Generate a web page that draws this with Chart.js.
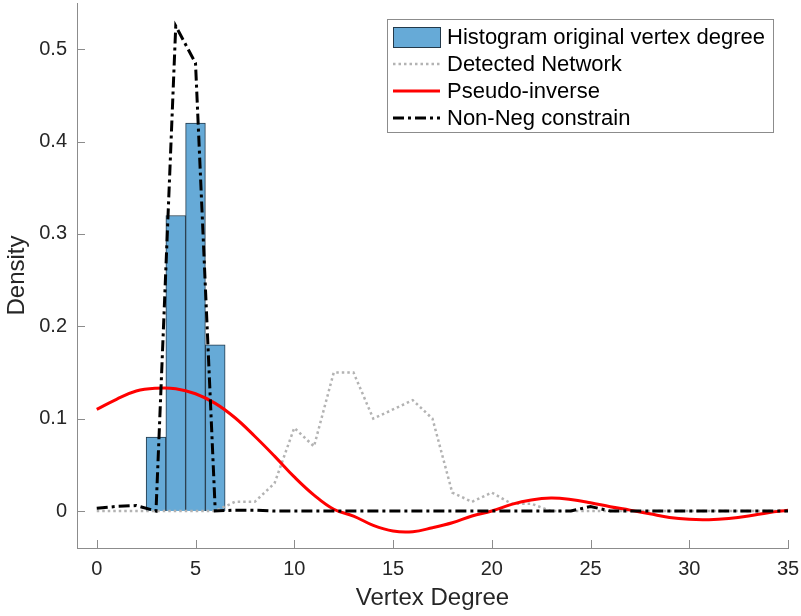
<!DOCTYPE html>
<html>
<head>
<meta charset="utf-8">
<title>Vertex degree density</title>
<script src="https://cdn.jsdelivr.net/npm/chart.js@4/dist/chart.umd.min.js"></script>
<style>
  html, body { margin: 0; padding: 0; background: #fff; }
  #wrap { width: 801px; height: 616px; }
</style>
</head>
<body>
<div id="wrap"><canvas id="canvas"></canvas></div>
<script>
// vertex degree 0..35
var degrees = [0, 1, 2, 3, 4, 5, 6, 7, 8, 9, 10, 11, 12, 13, 14, 15, 16, 17,
  18, 19, 20, 21, 22, 23, 24, 25, 26, 27, 28, 29, 30, 31, 32, 33, 34, 35]

// histogram of the original vertex degree (bin centres, density)
var histBins = [3, 4, 5, 6]
var histDensity = [0.08, 0.32, 0.42, 0.18]

var detected = [0, 0, 0, 0, 0, 0, 0, 0.01, 0.01, 0.03, 0.09, 0.07, 0.15, 0.15,
  0.10, 0.11, 0.12, 0.10, 0.02, 0.01, 0.02, 0.008, 0.008, 0, 0, 0, 0, 0, 0, 0,
  0, 0, 0, 0, 0, 0]

var pseudoInverse = [0.110, 0.121, 0.130, 0.133, 0.1325, 0.127, 0.1166, 0.101,
  0.081, 0.0595, 0.037, 0.0173, 0.002, -0.0054, -0.0155, -0.0216, -0.0223,
  -0.018, -0.0126, -0.0054, 0.000, 0.0072, 0.012, 0.014, 0.0125, 0.009, 0.0047,
  0.001, -0.003, -0.007, -0.009, -0.0093, -0.008, -0.0054, -0.0018, 0.001]

var nonNeg = [0.003, 0.005, 0.006, 0, 0.525, 0.485, 0, 0.001, 0.001, 0, 0, 0,
  0, 0, 0, 0, 0, 0, 0, 0, 0, 0, 0, 0, 0, 0.005, 0, 0, 0, 0, 0, 0, 0, 0, 0, 0]

var xTicks = [0, 5, 10, 15, 20, 25, 30, 35]
var yTicks = [0, 0.1, 0.2, 0.3, 0.4, 0.5]

var FONT = '"Liberation Sans", Helvetica, Arial, sans-serif'
var AXIS = '#8c8c8c'
var TEXT = '#262626'

function points (ys) {
  return degrees.map(function (d, i) { return { x: d, y: ys[i] } })
}

// MATLAB style ticks pointing into the axes
var innerTicks = {
  id: 'innerTicks',
  afterDraw: function (chart) {
    var ctx = chart.ctx
    var a = chart.chartArea
    var sx = chart.scales.x
    var sy = chart.scales.y
    ctx.save()
    ctx.strokeStyle = AXIS
    ctx.lineWidth = 1
    ctx.beginPath()
    sx.ticks.forEach(function (t) {
      var px = Math.round(sx.getPixelForValue(t.value)) + 0.5
      ctx.moveTo(px, a.bottom)
      ctx.lineTo(px, a.bottom - 8)
    })
    sy.ticks.forEach(function (t) {
      var py = Math.round(sy.getPixelForValue(t.value)) + 0.5
      ctx.moveTo(a.left, py)
      ctx.lineTo(a.left + 8, py)
    })
    ctx.stroke()
    ctx.restore()
  }
}

// legend box in the upper right of the plot
var boxLegend = {
  id: 'boxLegend',
  afterDraw: function (chart) {
    var ctx = chart.ctx
    var left = 387.5, top = 19.5, w = 386, h = 113
    var rowH = 27
    ctx.save()
    ctx.fillStyle = '#fff'
    ctx.fillRect(left, top, w, h)
    ctx.strokeStyle = '#8c8c8c'
    ctx.lineWidth = 1
    ctx.strokeRect(left, top, w, h)
    ctx.font = '22px ' + FONT
    ctx.textBaseline = 'middle'
    chart.data.datasets.forEach(function (ds, i) {
      var cy = top + 17.5 + i * rowH
      if (ds.type === 'bar') {
        ctx.fillStyle = ds.backgroundColor
        ctx.fillRect(393, cy - 10, 47, 20)
        ctx.strokeStyle = ds.borderColor
        ctx.strokeRect(393.5, cy - 9.5, 47, 20)
      } else {
        ctx.strokeStyle = ds.borderColor
        ctx.lineWidth = ds.borderWidth
        ctx.setLineDash(ds.borderDash || [])
        ctx.beginPath()
        ctx.moveTo(393, cy)
        ctx.lineTo(440, cy)
        ctx.stroke()
        ctx.setLineDash([])
      }
      ctx.fillStyle = '#000'
      ctx.fillText(ds.label, 447, cy + 1)
    })
    ctx.restore()
  }
}

var context = document.getElementById('canvas').getContext('2d')
new Chart(context, {
  data: {
    datasets: [{
      type: 'bar',
      label: 'Histogram original vertex degree',
      data: histBins.map(function (b, i) { return { x: b, y: histDensity[i] } }),
      backgroundColor: 'rgb(102,170,215)',
      borderColor: '#23394a',
      borderWidth: 1,
      barPercentage: 1,
      categoryPercentage: 1,
      order: 4
    }, {
      type: 'line',
      label: 'Detected Network',
      data: points(detected),
      borderColor: '#b3b3b3',
      borderWidth: 2.5,
      borderDash: [2.5, 3],
      pointRadius: 0,
      tension: 0,
      fill: false,
      order: 3
    }, {
      type: 'line',
      label: 'Pseudo-inverse',
      data: points(pseudoInverse),
      borderColor: '#ff0000',
      borderWidth: 3,
      pointRadius: 0,
      tension: 0.4,
      fill: false,
      order: 2
    }, {
      type: 'line',
      label: 'Non-Neg constrain',
      data: points(nonNeg),
      borderColor: '#000',
      borderWidth: 3,
      borderDash: [11, 4, 3, 4],
      pointRadius: 0,
      tension: 0,
      fill: false,
      order: 1
    }]
  },
  options: {
    responsive: true,
    maintainAspectRatio: false,
    animation: false,
    layout: { padding: { top: 3, right: 13, left: 0, bottom: 0 } },
    plugins: {
      legend: { display: false },
      tooltip: { enabled: false }
    },
    scales: {
      x: {
        type: 'linear',
        min: -1,
        max: 35,
        offset: false,
        grid: { display: false, drawTicks: false },
        border: { display: true, color: AXIS, width: 1 },
        afterBuildTicks: function (scale) {
          scale.ticks = xTicks.map(function (v) { return { value: v } })
        },
        afterFit: function (scale) {
          scale.height = 68
          scale.paddingLeft = 0
          scale.paddingRight = 0
        },
        ticks: {
          color: TEXT,
          padding: 9,
          maxRotation: 0,
          font: { family: FONT, size: 20 },
          callback: function (v) { return String(v) }
        },
        title: {
          display: true,
          text: 'Vertex Degree',
          color: TEXT,
          font: { family: FONT, size: 24 },
          padding: { top: 0, bottom: 3 }
        }
      },
      y: {
        type: 'linear',
        min: -0.04,
        max: 0.55,
        grid: { display: false, drawTicks: false },
        border: { display: true, color: AXIS, width: 1 },
        afterBuildTicks: function (scale) {
          scale.ticks = yTicks.map(function (v) { return { value: v } })
        },
        afterFit: function (scale) {
          scale.width = 77
          scale.paddingTop = 0
          scale.paddingBottom = 0
        },
        ticks: {
          color: TEXT,
          padding: 10,
          font: { family: FONT, size: 20 },
          callback: function (v) { return String(v) }
        },
        title: {
          display: true,
          text: 'Density',
          color: TEXT,
          font: { family: FONT, size: 24 },
          padding: { top: 3, bottom: 0 }
        }
      }
    }
  },
  plugins: [innerTicks, boxLegend]
})
</script>
</body>
</html>
